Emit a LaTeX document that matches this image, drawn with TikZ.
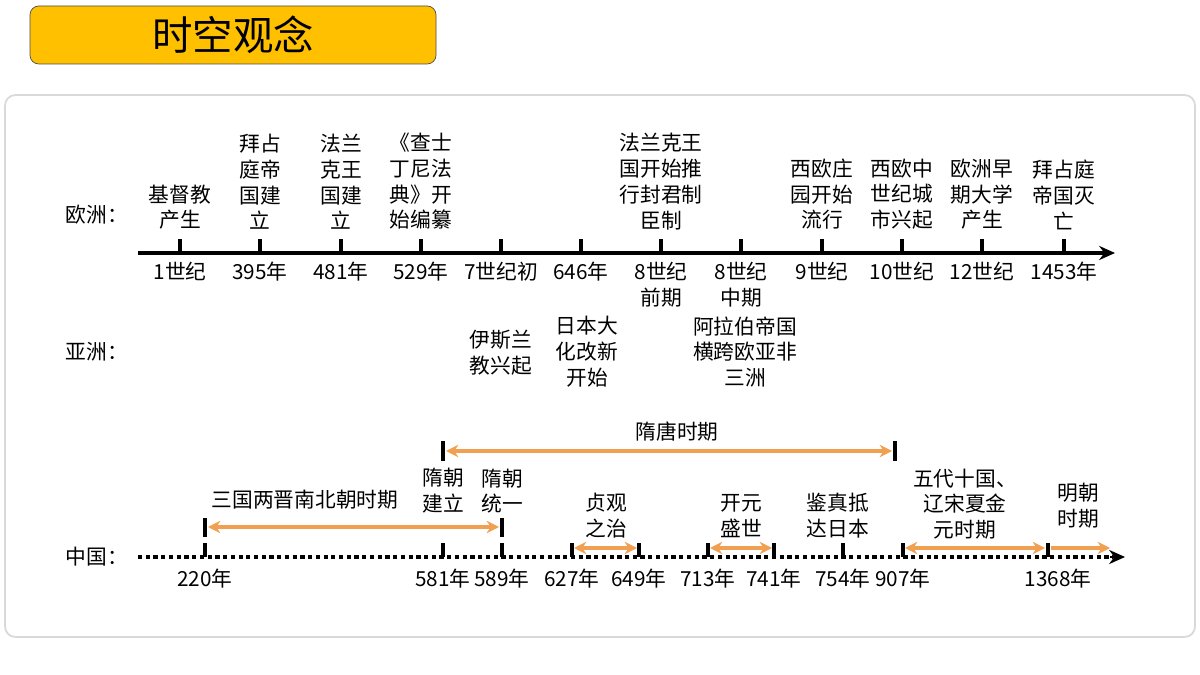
\documentclass[tikz,border=0pt]{standalone}
\usepackage{fontspec}
\setmainfont{Noto Sans CJK SC}
\usetikzlibrary{arrows.meta,calc}
\definecolor{org}{HTML}{F0A050}
\definecolor{ttl}{HTML}{FFC000}
\begin{document}
\begin{tikzpicture}[x=0.02cm,y=-0.02cm,
  t/.style={font=\fontsize{11.8pt}{14.7pt}\selectfont,align=center,inner sep=0pt},
  ev/.style={t,anchor=south},
  lb/.style={t,anchor=north},
  tk/.style={line width=1.8pt},
  oa/.style={org,line width=2.4pt,{Stealth[length=7pt,width=7pt]}-{Stealth[length=7pt,width=7pt]}},
  ax/.style={line width=1.8pt,-{Stealth[length=9pt,width=8pt]}}]
\useasboundingbox (0,0) rectangle (1200,675);
\node[draw=black!70,fill=ttl,rounded corners=5pt,minimum width=406*0.02cm,minimum height=58*0.02cm,font=\fontsize{23pt}{26pt}\selectfont] (title) at (233,35) {时空观念};
\node[draw=black!15,line width=1pt,rounded corners=6pt,minimum width=1190*0.02cm,minimum height=542*0.02cm] (panel) at (600,366) {};
% Europe
\node[t] (eu) at (97,215) {欧洲：};
\node[t] (as) at (97,352) {亚洲：};
\node[t] (cn) at (97,557) {中国：};
\coordinate (e0) at (138,253); \coordinate (e1) at (1115,253);
\draw[ax] (e0) -- (e1);
\foreach \x/\l [count=\i] in {180/1世纪,260/395年,341/481年,421/529年,501/7世纪初,581/646年,661/{8世纪\\前期},741/{8世纪\\中期},822/9世纪,902/10世纪,982/12世纪,1064/1453年}{
  \coordinate (et\i) at (\x,239);
  \draw[tk] (et\i) -- ++(0,14);
  \node[lb] (el\i) at (\x,262) {\l};
}
\node[ev] (ee1) at (180,230) {基督教\\产生};
\node[ev] (ee2) at (260,230) {拜占\\庭帝\\国建\\立};
\node[ev] (ee3) at (341,230) {法兰\\克王\\国建\\立};
\node[ev] (ee4) at (421,230) {《查士\\丁尼法\\典》开\\始编纂};
\node[ev] (ee7) at (661,230) {法兰克王\\国开始推\\行封君制\\臣制};
\node[ev] (ee9) at (822,230) {西欧庄\\园开始\\流行};
\node[ev] (ee10) at (902,230) {西欧中\\世纪城\\市兴起};
\node[ev] (ee11) at (982,230) {欧洲早\\期大学\\产生};
\node[ev] (ee12) at (1064,230) {拜占庭\\帝国灭\\亡};
% Asia
\node[t] (a1) at (501,353) {伊斯兰\\教兴起};
\node[t] (a2) at (587,352) {日本大\\化改新\\开始};
\node[t] (a3) at (745,352) {阿拉伯帝国\\横跨欧亚非\\三洲};
% China
\coordinate (c0) at (138,557); \coordinate (c1) at (1125,557);
\draw[line width=2.4pt,dotted] (c0) -- ++(975,0);
\draw[line width=1.4pt,-{Stealth[length=9pt,width=8pt]}] (1110,557) -- (c1);
\foreach \x [count=\i] in {205,443,502,572,639,708,774,843,903,1048}{
  \coordinate (ct\i) at (\x,543);
  \draw[tk] (ct\i) -- ++(0,14);
}
\foreach \x/\l [count=\i] in {205/220年,443/581年,502/589年,572/627年,639/649年,708/713年,774/741年,843/754年,903/907年,1058/1368年}
  \node[lb] (cl\i) at (\x,569) {\l};
\coordinate (p1) at (205,527); \coordinate (p2) at (502,527);
\draw[tk] (205,518) -- (205,537); \draw[tk] (502,518) -- (502,537);
\draw[oa] ($(p1)+(3,0)$) -- ($(p2)+(-3,0)$);
\coordinate (q1) at (443,451); \coordinate (q2) at (895,451);
\draw[tk] (443,441) -- (443,461); \draw[tk] (895,441) -- (895,461);
\draw[oa] ($(q1)+(3,0)$) -- ($(q2)+(-3,0)$);
\draw[oa] (574,548) -- (637,548);
\draw[oa] (710,548) -- (772,548);
\draw[oa] (905,548) -- (1045,548);
\draw[org,line width=2.4pt,-{Stealth[length=7pt,width=7pt]}] (1051,548) -- (1110,548);
\node[t] (n1) at (677,432) {隋唐时期};
\node[t] (n2) at (305,500) {三国两晋南北朝时期};
\node[t] (n3) at (443,491) {隋朝\\建立};
\node[t] (n4) at (502,491) {隋朝\\统一};
\node[t] (n5) at (606,516) {贞观\\之治};
\node[t] (n6) at (741,516) {开元\\盛世};
\node[t] (n7) at (838,516) {鉴真抵\\达日本};
\node[t] (n8) at (965,504) {五代十国、\\辽宋夏金\\元时期};
\node[t] (n9) at (1078,506) {明朝\\时期};
\end{tikzpicture}
\end{document}
